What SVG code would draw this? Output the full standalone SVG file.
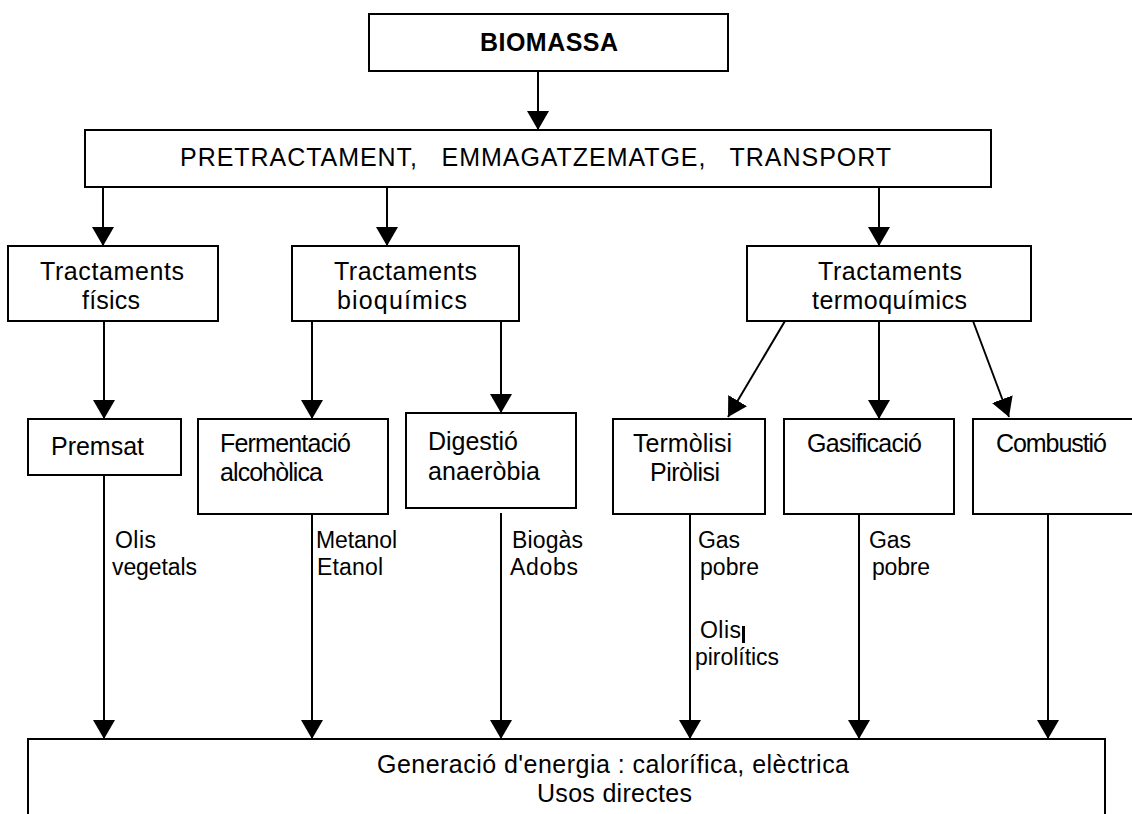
<svg xmlns="http://www.w3.org/2000/svg" width="1132" height="814" viewBox="0 0 1132 814">
<style>
.box{fill:#fff;stroke:#000;stroke-width:2}
.t{font-family:"Liberation Sans",Arial,sans-serif;font-size:25px;fill:#000}
.l{font-family:"Liberation Sans",Arial,sans-serif;font-size:23px;fill:#000}
.c{text-anchor:middle}
.con line{stroke:#000;stroke-width:2;marker-end:url(#ah)}
</style>
<defs>
<marker id="ah" markerUnits="userSpaceOnUse" markerWidth="19" markerHeight="22" viewBox="0 -11 19 22" refX="19" refY="0" orient="auto">
<path d="M0,-11 L19,0 L0,11 z" fill="#000"/>
</marker>
</defs>
<rect width="1132" height="814" fill="#fff"/>

<g id="biomassa">
<rect class="box" x="369" y="14" width="359" height="57"/>
<text class="t c" x="549" y="51" font-weight="bold" font-size="25" textLength="138">BIOMASSA</text>
</g>
<g id="pretractament">
<rect class="box" x="85" y="130" width="906" height="57"/>
<text class="t" x="180" y="166" font-size="26" textLength="711" xml:space="preserve">PRETRACTAMENT,   EMMAGATZEMATGE,   TRANSPORT</text>
</g>
<g id="fisics">
<rect class="box" x="8" y="246" width="210" height="75"/>
<text class="t" x="40" y="280" textLength="144">Tractaments</text>
<text class="t" x="82" y="309" textLength="58">físics</text>
</g>
<g id="bioquimics">
<rect class="box" x="292" y="246" width="227" height="75"/>
<text class="t" x="334" y="280" textLength="143">Tractaments</text>
<text class="t" x="337" y="309" textLength="130">bioquímics</text>
</g>
<g id="termoquimics">
<rect class="box" x="747" y="246" width="284" height="75"/>
<text class="t" x="818" y="280" textLength="144">Tractaments</text>
<text class="t" x="812" y="309" textLength="155">termoquímics</text>
</g>
<g id="premsat">
<rect class="box" x="28" y="419" width="153" height="56"/>
<text class="t" x="51" y="455" textLength="93">Premsat</text>
</g>
<g id="fermentacio">
<rect class="box" x="198" y="419" width="190" height="95"/>
<text class="t" x="220" y="452" textLength="131">Fermentació</text>
<text class="t" x="220" y="481" textLength="103">alcohòlica</text>
</g>
<g id="digestio">
<rect class="box" x="406" y="413" width="170" height="95"/>
<text class="t" x="428" y="450" textLength="90">Digestió</text>
<text class="t" x="428" y="480" textLength="112">anaeròbia</text>
</g>
<g id="termolisi">
<rect class="box" x="613" y="419" width="152" height="95"/>
<text class="t" x="633" y="452" textLength="99">Termòlisi</text>
<text class="t" x="650" y="481" textLength="70">Piròlisi</text>
</g>
<g id="gasificacio">
<rect class="box" x="784" y="419" width="170" height="95"/>
<text class="t" x="807" y="452" textLength="115">Gasificació</text>
</g>
<g id="combustio">
<rect class="box" x="973" y="419" width="200" height="95"/>
<text class="t" x="996" y="452" textLength="111">Combustió</text>
</g>
<g id="generacio">
<rect class="box" x="28" y="739" width="1077" height="120"/>
<text class="t" x="377" y="773" textLength="472">Generació d'energia : calorífica, elèctrica</text>
<text class="t" x="537" y="802" textLength="155">Usos directes</text>
</g>

<g id="connectors" class="con">
<line x1="538" y1="71" x2="538" y2="130"/>
<line x1="103" y1="187" x2="103" y2="246"/>
<line x1="387" y1="187" x2="387" y2="246"/>
<line x1="879" y1="187" x2="879" y2="246"/>
<line x1="104" y1="321" x2="104" y2="419"/>
<line x1="312" y1="321" x2="312" y2="419"/>
<line x1="501" y1="321" x2="501" y2="413"/>
<line x1="785" y1="321" x2="728" y2="417"/>
<line x1="879" y1="321" x2="879" y2="419"/>
<line x1="973" y1="321" x2="1009" y2="417"/>
<line x1="104" y1="475" x2="104" y2="739"/>
<line x1="312" y1="514" x2="312" y2="739"/>
<line x1="501" y1="513" x2="501" y2="739"/>
<line x1="690" y1="514" x2="690" y2="739"/>
<line x1="859" y1="514" x2="859" y2="739"/>
<line x1="1048" y1="514" x2="1048" y2="739"/>
</g>

<g id="labels">
<text class="l" x="115" y="548" textLength="41">Olis</text>
<text class="l" x="112" y="575" textLength="85">vegetals</text>
<text class="l" x="316" y="548" textLength="81">Metanol</text>
<text class="l" x="317" y="575" textLength="66">Etanol</text>
<text class="l" x="512" y="548" textLength="71">Biogàs</text>
<text class="l" x="510" y="575" textLength="68">Adobs</text>
<text class="l" x="698" y="548" textLength="42">Gas</text>
<text class="l" x="700" y="575" textLength="59">pobre</text>
<text class="l" x="700" y="638" textLength="41">Olis</text>
<rect x="742" y="626" width="3" height="17" fill="#000"/>
<text class="l" x="695" y="665" textLength="84">pirolítics</text>
<text class="l" x="869" y="548" textLength="42">Gas</text>
<text class="l" x="872" y="575" textLength="58">pobre</text>
</g>
</svg>
